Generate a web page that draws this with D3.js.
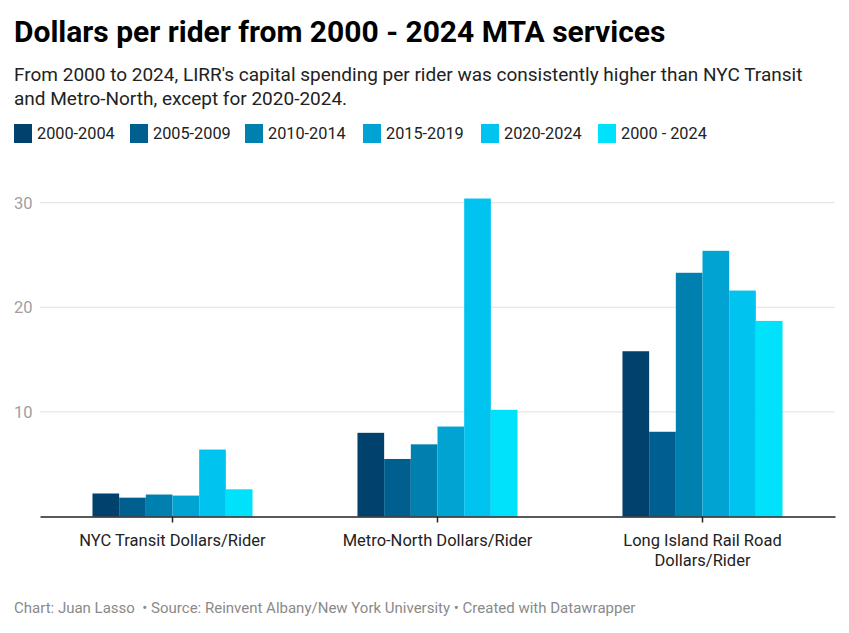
<!DOCTYPE html>
<html>
<head>
<meta charset="utf-8">
<script src="https://cdn.jsdelivr.net/npm/d3@7.9.0/dist/d3.min.js"></script>
<style>
  body { margin: 0; background: #fff; font-family: Roboto, "Noto Sans", sans-serif; }
  svg text { font-family: Roboto, "Noto Sans", sans-serif; }
</style>
</head>
<body>
<svg id="chart" width="849" height="633"></svg>
<script>
// data
const categories = ['NYC Transit Dollars/Rider', 'Metro-North Dollars/Rider', 'Long Island Rail Road Dollars/Rider'];
const periods = ['2000-2004', '2005-2009', '2010-2014', '2015-2019', '2020-2024', '2000 - 2024'];
const nycTransit = [2.2, 1.8, 2.1, 2.0, 6.4, 2.6];
const metroNorth = [8.0, 5.5, 6.9, 8.6, 30.4, 10.2];
const lirr = [15.8, 8.1, 23.3, 25.4, 21.6, 18.7];
const yTicks = [10, 20, 30];
const colors = ['#00426d', '#005f8e', '#0080ae', '#00a3d2', '#00c4ef', '#00e1fc'];

const seriesByCat = [nycTransit, metroNorth, lirr];

const svg = d3.select('#chart');

// title + subtitle
svg.append('text')
  .attr('x', 14).attr('y', 42)
  .attr('font-size', 30).attr('font-weight', 700).attr('fill', '#000')
  .text('Dollars per rider from 2000 - 2024 MTA services');

const sub = svg.append('text')
  .attr('x', 14).attr('y', 81)
  .attr('font-size', 19).attr('fill', '#222');
sub.append('tspan').attr('x', 14).text("From 2000 to 2024, LIRR's capital spending per rider was consistently higher than NYC Transit");
sub.append('tspan').attr('x', 14).attr('dy', 24).text('and Metro-North, except for 2020-2024.');

// legend
const legendX = [14, 130, 245, 363, 481, 598];
const legend = svg.append('g');
periods.forEach((p, i) => {
  const g = legend.append('g').attr('transform', `translate(${legendX[i]},124)`);
  g.append('rect').attr('width', 18).attr('height', 19).attr('fill', colors[i]);
  g.append('text').attr('x', 23).attr('y', 15)
    .attr('font-size', 16.3).attr('fill', '#222').text(p);
});

// scales
const x0 = d3.scaleBand().domain(categories).range([40, 835])
  .paddingInner(0.396).paddingOuter(0.198);
const x1 = d3.scaleBand().domain(periods).range([0, x0.bandwidth()]);
const y = d3.scaleLinear().domain([0, 30]).range([516.5, 202.7]);

// gridlines
svg.append('g').selectAll('line').data(yTicks).join('line')
  .attr('x1', 40).attr('x2', 835)
  .attr('y1', d => y(d)).attr('y2', d => y(d))
  .attr('stroke', '#e1e1e1').attr('stroke-width', 1);

svg.append('g').selectAll('text').data(yTicks).join('text')
  .attr('x', 14).attr('y', d => y(d) + 6)
  .attr('font-size', 16.5).attr('fill', '#a0a0a0')
  .text(d => d);

// bars
const groups = svg.append('g').selectAll('g').data(categories).join('g')
  .attr('transform', d => `translate(${x0(d)},0)`);

groups.selectAll('rect')
  .data((d, ci) => seriesByCat[ci].map((v, i) => ({ period: periods[i], value: v, i })))
  .join('rect')
  .attr('x', d => x1(d.period))
  .attr('width', x1.bandwidth())
  .attr('y', d => y(d.value))
  .attr('height', d => y(0) - y(d.value))
  .attr('fill', d => colors[d.i]);

// x axis
const xAxis = svg.append('g').attr('transform', `translate(0,${y(0)})`)
  .call(d3.axisBottom(x0).tickSize(6).tickSizeOuter(0).tickFormat(''));
xAxis.select('.domain').attr('stroke', '#222').attr('stroke-width', 1.5);
xAxis.selectAll('.tick line').attr('stroke', '#222').attr('stroke-width', 1.5);

const labelLines = [['NYC Transit Dollars/Rider'], ['Metro-North Dollars/Rider'], ['Long Island Rail Road', 'Dollars/Rider']];
categories.forEach((c, i) => {
  const t = svg.append('text')
    .attr('x', x0(c) + x0.bandwidth() / 2).attr('y', 546)
    .attr('text-anchor', 'middle').attr('font-size', 16.5).attr('fill', '#222');
  labelLines[i].forEach((ln, j) => {
    t.append('tspan').attr('x', x0(c) + x0.bandwidth() / 2).attr('dy', j ? 19.5 : 0).text(ln);
  });
});

// footer
svg.append('text')
  .attr('x', 14).attr('y', 613)
  .attr('font-size', 15).attr('fill', '#8a8a8a')
  .text('Chart: Juan Lasso \u00a0\u2022 Source: Reinvent Albany/New York University \u2022 Created with Datawrapper');
</script>
</body>
</html>
